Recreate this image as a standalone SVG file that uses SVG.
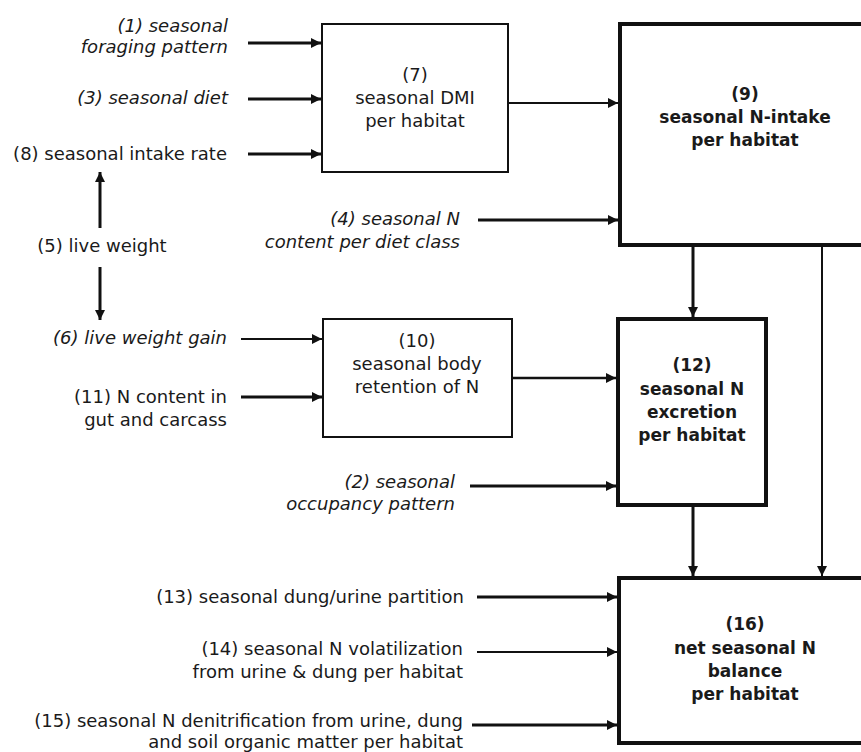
<svg xmlns="http://www.w3.org/2000/svg" width="861" height="752" viewBox="0 0 861 752">
<style>
text{font-family:"DejaVu Sans","Liberation Sans",sans-serif;font-size:18px;fill:#1a1a1a}
.it{font-style:italic}
.r{text-anchor:end}
.c{text-anchor:middle}
.b{font-weight:bold;font-size:17px}
.box{fill:#fff;stroke:#111}
.thin{stroke-width:2}
.thick{stroke-width:4}
.ln{stroke:#111;fill:none}
</style>
<defs>
<marker id="ah" viewBox="0 0 10 10" refX="10" refY="5" markerWidth="10" markerHeight="11" markerUnits="userSpaceOnUse" orient="auto">
<path d="M0,0 L10,5 L0,10 z" fill="#111"/>
</marker>
</defs>
<rect width="861" height="752" fill="#fff"/>

<g id="labels">
<text class="it r" x="228" y="32">(1) seasonal</text>
<text class="it r" x="228" y="53">foraging pattern</text>
<text class="it r" x="228" y="104">(3) seasonal diet</text>
<text class="r" x="227" y="160">(8) seasonal intake rate</text>
<text class="c" x="102" y="252">(5) live weight</text>
<text class="it r" x="227" y="344">(6) live weight gain</text>
<text class="r" x="227" y="403">(11) N content in</text>
<text class="r" x="227" y="426">gut and carcass</text>
<text class="it r" x="460" y="225">(4) seasonal N</text>
<text class="it r" x="460" y="248">content per diet class</text>
<text class="it r" x="455" y="488">(2) seasonal</text>
<text class="it r" x="455" y="510">occupancy pattern</text>
<text class="r" x="464" y="603">(13) seasonal dung/urine partition</text>
<text class="r" x="463" y="655">(14) seasonal N volatilization</text>
<text class="r" x="463" y="678">from urine &amp; dung per habitat</text>
<text class="r" x="463" y="727">(15) seasonal N denitrification from urine, dung</text>
<text class="r" x="463" y="748">and soil organic matter per habitat</text>
</g>

<g id="node7">
<rect class="box thin" x="322" y="24" width="186" height="148"/>
<text class="c" x="415" y="81">(7)</text>
<text class="c" x="415" y="104">seasonal DMI</text>
<text class="c" x="415" y="127">per habitat</text>
</g>

<g id="node9">
<rect class="box thick" x="620" y="24" width="300" height="221"/>
<text class="c b" x="745" y="100">(9)</text>
<text class="c b" x="745" y="123">seasonal N-intake</text>
<text class="c b" x="745" y="146">per habitat</text>
</g>

<g id="node10">
<rect class="box thin" x="323" y="319" width="189" height="118"/>
<text class="c" x="417" y="347">(10)</text>
<text class="c" x="417" y="370">seasonal body</text>
<text class="c" x="417" y="393">retention of N</text>
</g>

<g id="node12">
<rect class="box thick" x="618" y="319" width="148" height="186"/>
<text class="c b" x="692" y="371">(12)</text>
<text class="c b" x="692" y="395">seasonal N</text>
<text class="c b" x="692" y="418">excretion</text>
<text class="c b" x="692" y="441">per habitat</text>
</g>

<g id="node16">
<rect class="box thick" x="619" y="578" width="300" height="165"/>
<text class="c b" x="745" y="630">(16)</text>
<text class="c b" x="745" y="654">net seasonal N</text>
<text class="c b" x="745" y="677">balance</text>
<text class="c b" x="745" y="700">per habitat</text>
</g>

<g id="connectors" class="ln" marker-end="url(#ah)">
<line x1="248" y1="43" x2="321" y2="43" stroke-width="3" marker-end="url(#ah)"/>
<line x1="248" y1="99" x2="321" y2="99" stroke-width="3" marker-end="url(#ah)"/>
<line x1="248" y1="154" x2="321" y2="154" stroke-width="3" marker-end="url(#ah)"/>
<line x1="100" y1="228" x2="100" y2="172" stroke-width="3" marker-end="url(#ah)"/>
<line x1="100" y1="267" x2="100" y2="320" stroke-width="3" marker-end="url(#ah)"/>
<line x1="508" y1="103" x2="618" y2="103" stroke-width="2" marker-end="url(#ah)"/>
<line x1="478" y1="220" x2="618" y2="220" stroke-width="3" marker-end="url(#ah)"/>
<line x1="241" y1="339" x2="322" y2="339" stroke-width="2" marker-end="url(#ah)"/>
<line x1="241" y1="397" x2="322" y2="397" stroke-width="3" marker-end="url(#ah)"/>
<line x1="512" y1="378" x2="616" y2="378" stroke-width="2.5" marker-end="url(#ah)"/>
<line x1="470" y1="486" x2="616" y2="486" stroke-width="3" marker-end="url(#ah)"/>
<line x1="693" y1="247" x2="693" y2="317" stroke-width="3" marker-end="url(#ah)"/>
<line x1="822" y1="247" x2="822" y2="576" stroke-width="2" marker-end="url(#ah)"/>
<line x1="693" y1="507" x2="693" y2="576" stroke-width="3" marker-end="url(#ah)"/>
<line x1="477" y1="597" x2="617" y2="597" stroke-width="3" marker-end="url(#ah)"/>
<line x1="477" y1="652" x2="617" y2="652" stroke-width="2" marker-end="url(#ah)"/>
<line x1="472" y1="725" x2="617" y2="725" stroke-width="3" marker-end="url(#ah)"/>
</g>
</svg>
